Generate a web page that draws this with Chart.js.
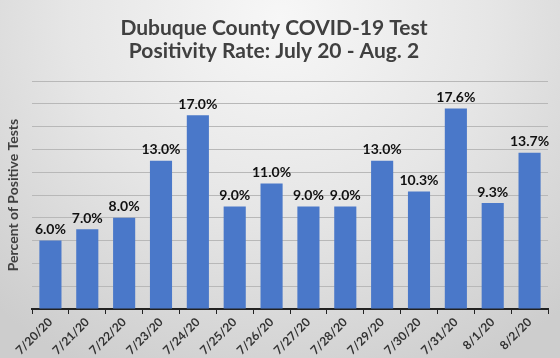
<!DOCTYPE html>
<html>
<head>
<meta charset="utf-8">
<script src="https://cdn.jsdelivr.net/npm/chart.js@4"></script>
<style>
    html, body { margin: 0; padding: 0; }
    #wrap {
        width: 560px;
        height: 358px;
        position: relative;
        background: radial-gradient(ellipse 75% 110% at 50% 5%, #f7f7f7 0%, #e6e6e6 50%, #cdcdcd 100%);
    }
</style>
</head>
<body>
<div id="wrap"><canvas id="posChart" width="560" height="358"></canvas></div>
<script>
// --- data ---
const dates = ["7/20/20", "7/21/20", "7/22/20", "7/23/20", "7/24/20", "7/25/20", "7/26/20",
    "7/27/20", "7/28/20", "7/29/20", "7/30/20", "7/31/20", "8/1/20", "8/2/20"];
const positivity = [6.0, 7.0, 8.0, 13.0, 17.0, 9.0, 11.0, 9.0, 9.0, 13.0, 10.3, 17.6, 9.3, 13.7];
const titleLines = ["Dubuque County COVID-19 Test", "Positivity Rate: July 20 - Aug. 2"];
const yTitle = "Percent of Positive Tests";

// value labels on top of each bar
const barLabels = {
    id: "barLabels",
    afterDatasetsDraw(chart) {
        const ctx = chart.ctx;
        const meta = chart.getDatasetMeta(0);
        ctx.save();
        ctx.font = "bold 14px Lato";
        ctx.fillStyle = "#111";
        ctx.textAlign = "center";
        ctx.textBaseline = "bottom";
        meta.data.forEach((bar, i) => {
            ctx.fillText(positivity[i].toFixed(1) + "%", bar.x, bar.y - 4);
        });
        ctx.restore();
    },
};

const ctx = document.getElementById("posChart").getContext("2d");
new Chart(ctx, {
    type: "bar",
    data: {
        labels: dates,
        datasets: [{
            data: positivity,
            backgroundColor: "#4a78c9",
            barPercentage: 0.6,
            categoryPercentage: 1.0,
        }],
    },
    options: {
        responsive: false,
        animation: false,
        layout: { padding: { left: 0, right: 12, top: 0, bottom: 0 } },
        plugins: {
            legend: { display: false },
            tooltip: { enabled: false },
            title: {
                display: true,
                text: titleLines,
                color: "#404040",
                font: { family: "Lato", size: 21, weight: "bold", lineHeight: 1.12 },
                padding: { top: 16, bottom: 18 },
            },
        },
        scales: {
            x: {
                grid: {
                    drawOnChartArea: false,
                    color: "#222",
                    tickLength: 5,
                    offset: true,
                },
                border: { color: "#222", width: 2 },
                ticks: {
                    minRotation: 45,
                    maxRotation: 45,
                    color: "#333",
                    padding: 1,
                    font: { family: "Lato", size: 12, weight: "bold" },
                },
                afterFit(scale) { scale.height = 49; },
            },
            y: {
                min: 0,
                max: 20,
                ticks: { display: false, stepSize: 2 },
                grid: { color: "#b8b8b8", drawTicks: false },
                border: { display: false },
                title: {
                    display: true,
                    text: yTitle,
                    color: "#404040",
                    font: { family: "Lato", size: 14, weight: "bold" },
                    padding: { top: 5, bottom: 0 },
                },
                afterFit(scale) { scale.width = 32; },
            },
        },
    },
    plugins: [barLabels],
});
</script>
</body>
</html>
